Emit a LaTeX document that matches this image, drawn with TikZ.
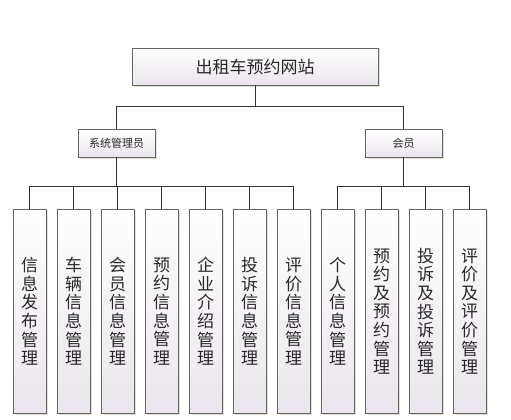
\documentclass[tikz,border=0pt]{standalone}
\usepackage{fontspec}
\setmainfont{Noto Sans CJK SC}
\usetikzlibrary{shadows,calc}
\definecolor{boxline}{RGB}{100,100,100}
\definecolor{boxbot}{RGB}{236,228,238}
\definecolor{txt}{RGB}{40,40,40}
\definecolor{wire}{RGB}{50,50,50}
\tikzset{
  box/.style={draw=boxline, line width=0.9pt, top color=white, bottom color=boxbot,
    drop shadow={shadow xshift=1.5pt, shadow yshift=-1.5pt, opacity=0.25},
    inner sep=0pt, text=txt, align=center},
  topbox/.style={box, minimum width=246pt, minimum height=37pt, font=\fontsize{17}{20}\selectfont},
  midbox/.style={box, minimum width=77pt, minimum height=28pt, font=\fontsize{11}{13}\selectfont},
  leaf/.style={box, minimum width=33pt, minimum height=204pt, anchor=north, font=\fontsize{17}{18.6}\selectfont},
  wireline/.style={draw=wire, line width=0.9pt}
}
\begin{document}
\begin{tikzpicture}[x=1pt,y=-1pt]
\useasboundingbox (0,0) rectangle (511,420);
\node[topbox] (root) at (255,66.5) {出租车预约网站};
\node[midbox] (admin) at (116.5,143) {系统管理员};
\node[midbox] (member) at (403.5,143) {会员};
\node[leaf] (a1) at (29.5,209) {信\\息\\发\\布\\管\\理};
\node[leaf] (a2) at (73.5,209) {车\\辆\\信\\息\\管\\理};
\node[leaf] (a3) at (117.5,209) {会\\员\\信\\息\\管\\理};
\node[leaf] (a4) at (161.5,209) {预\\约\\信\\息\\管\\理};
\node[leaf] (a5) at (205.5,209) {企\\业\\介\\绍\\管\\理};
\node[leaf] (a6) at (249.5,209) {投\\诉\\信\\息\\管\\理};
\node[leaf] (a7) at (293.5,209) {评\\价\\信\\息\\管\\理};
\node[leaf] (m1) at (337.5,209) {个\\人\\信\\息\\管\\理};
\node[leaf] (m2) at (381.5,209) {预\\约\\及\\预\\约\\管\\理};
\node[leaf] (m3) at (425.5,209) {投\\诉\\及\\投\\诉\\管\\理};
\node[leaf] (m4) at (469.5,209) {评\\价\\及\\评\\价\\管\\理};
% connectors
\draw[wireline] (root.south) -- ++(0,21) coordinate (rbus);
\draw[wireline] (admin.north) |- (rbus);
\draw[wireline] (member.north) |- (rbus);
\draw[wireline] (admin.south) -- ++(0,29) coordinate (abus);
\foreach \n in {a1,a2,a3,a4,a5,a6,a7}{
  \draw[wireline] (\n.north) |- (abus);
}
\draw[wireline] (member.south) -- ++(0,29) coordinate (mbus);
\foreach \n in {m1,m2,m3,m4}{
  \draw[wireline] (\n.north) |- (mbus);
}
\end{tikzpicture}
\end{document}
